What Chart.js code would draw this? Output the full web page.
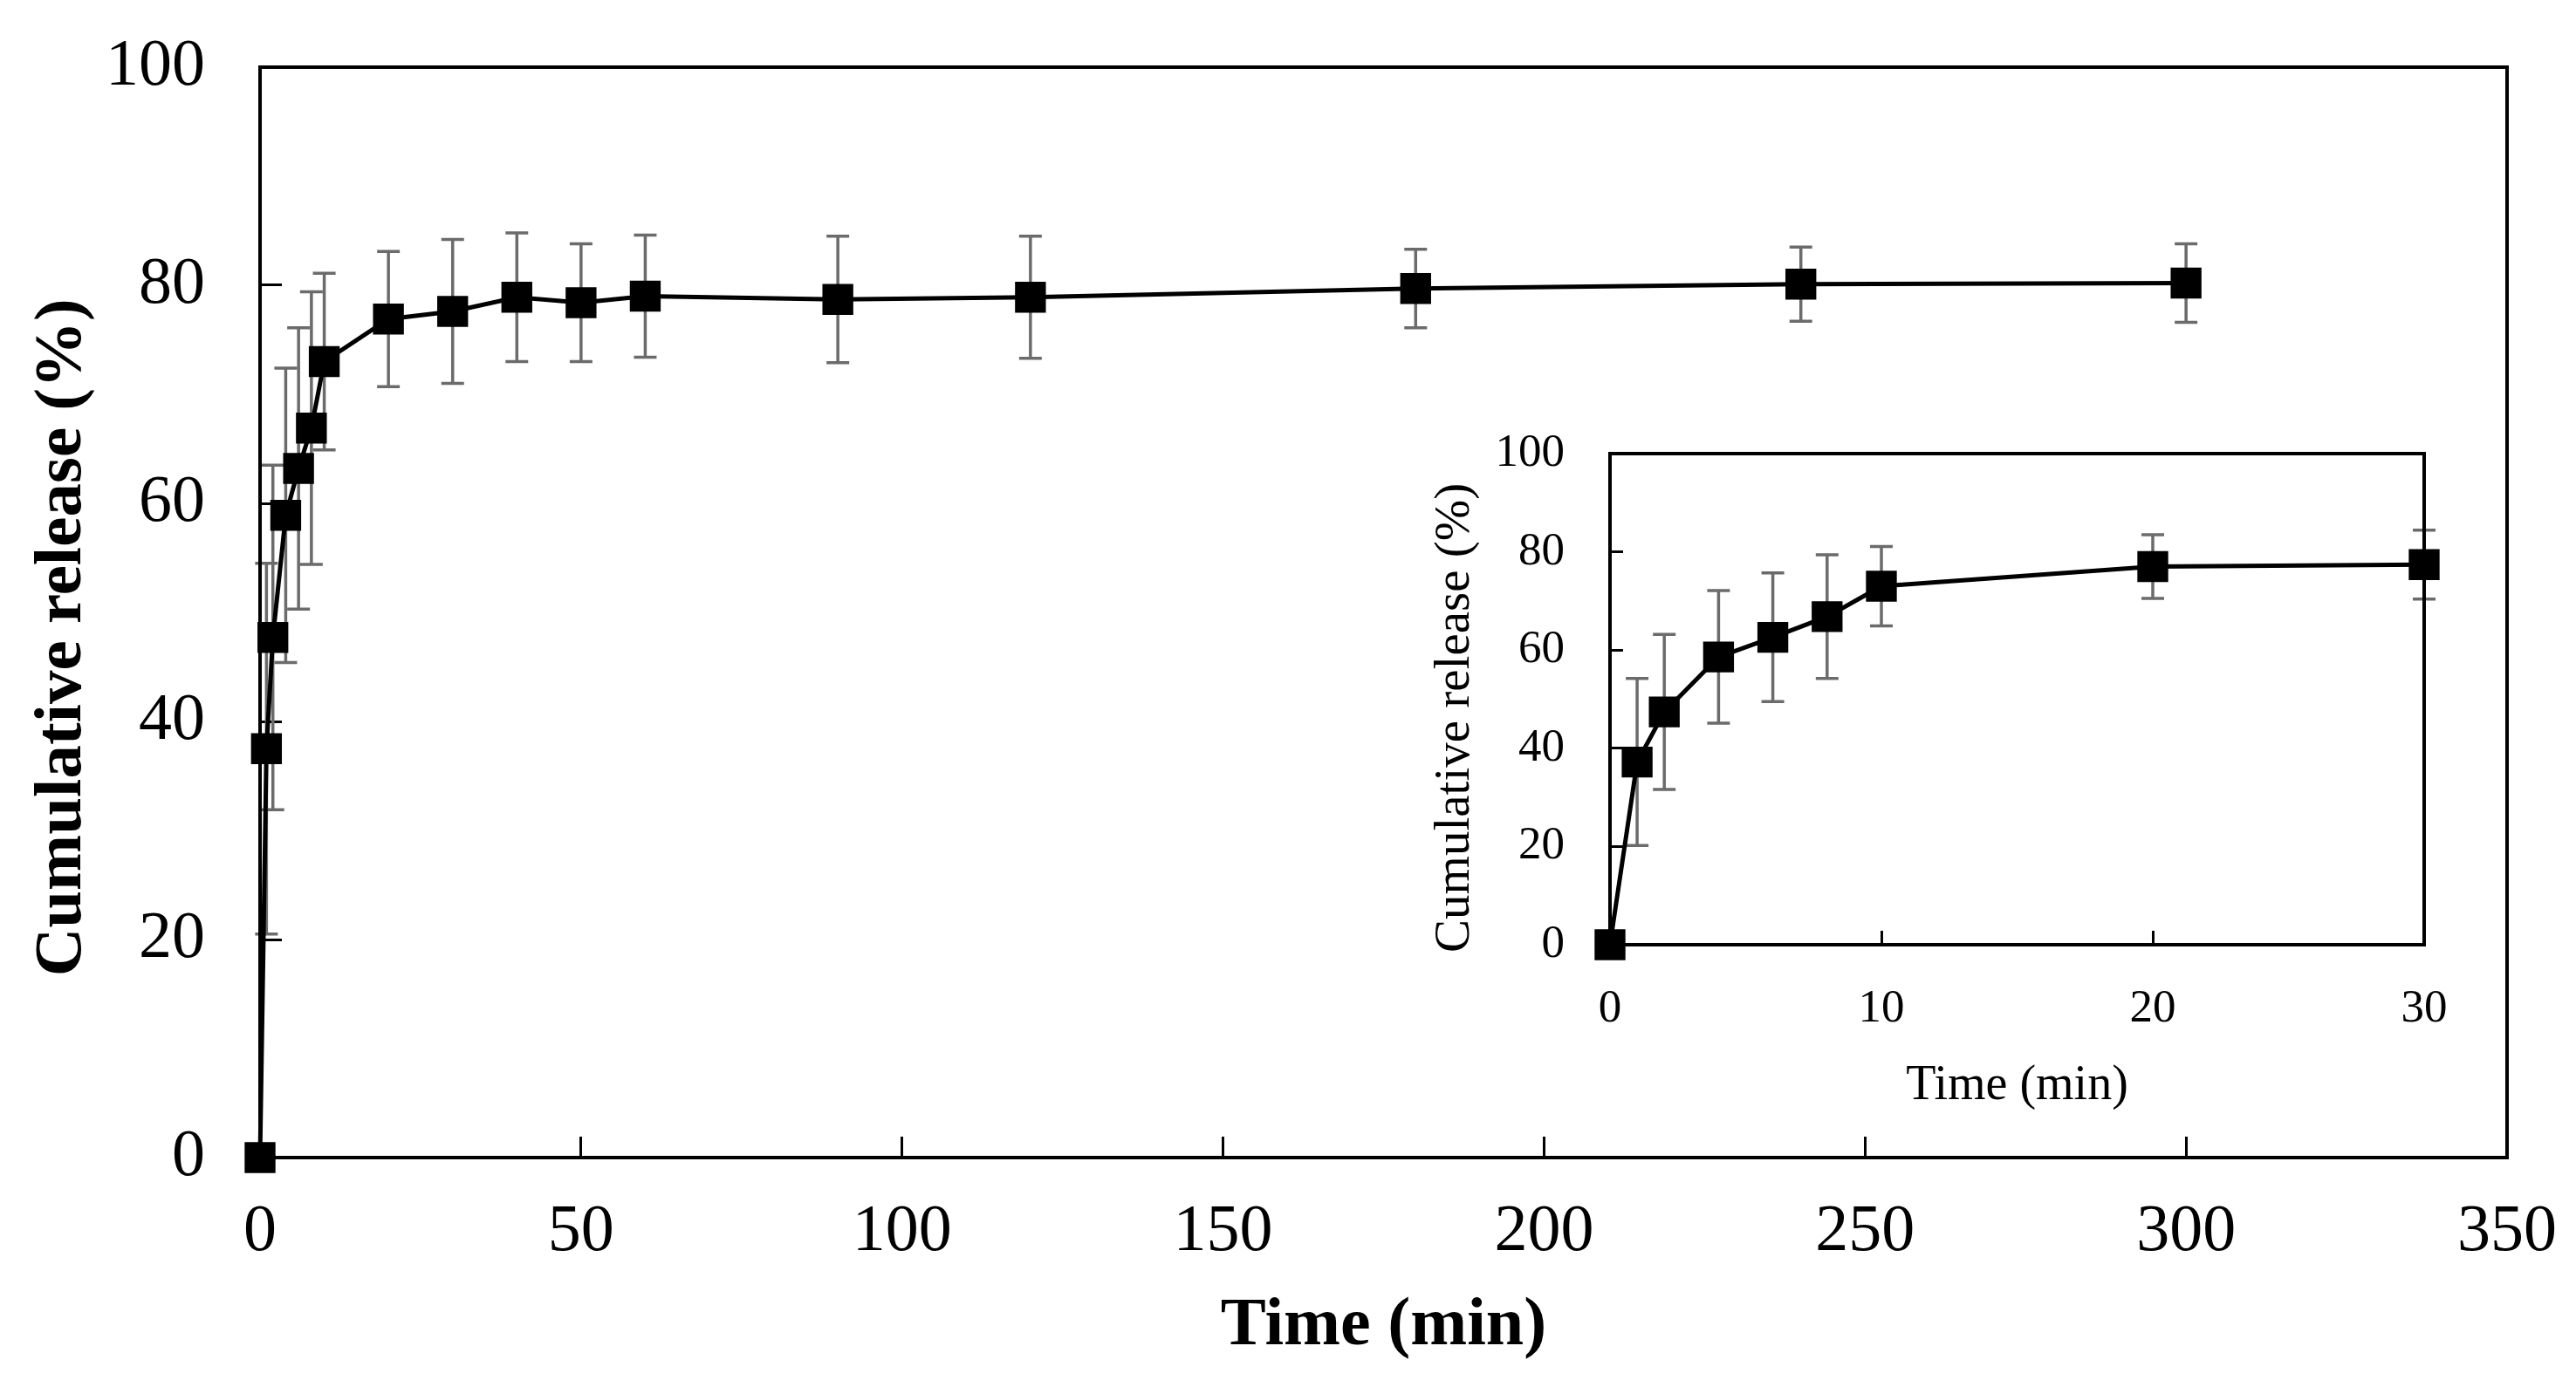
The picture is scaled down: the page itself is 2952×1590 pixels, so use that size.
<!DOCTYPE html>
<html>
<head>
<meta charset="utf-8">
<script src="https://cdn.jsdelivr.net/npm/chart.js@4.4.0/dist/chart.umd.min.js"></script>
<style>
html,body{margin:0;padding:0;background:#fff;}
#wrap{position:relative;width:2952px;height:1590px;background:#fff;}
#main{position:absolute;left:0;top:0;}
#inset{position:absolute;left:1600px;top:480px;}
</style>
</head>
<body>
<div id="wrap">
<canvas id="main" width="2952" height="1590"></canvas>
<canvas id="inset" width="1230" height="830"></canvas>
</div>
<script>
// ---- Main chart data ----
const times      = [0, 1, 2, 4, 6, 8, 10, 20, 30, 40, 50, 60, 90, 120, 180, 240, 300];
const release    = [0, 37.5, 47.7, 58.9, 63.2, 66.9, 73.0, 76.9, 77.6, 78.9, 78.4, 79.0, 78.7, 78.9, 79.7, 80.1, 80.2];
const releaseSD  = [0, 17.0, 15.8, 13.5, 12.9, 12.5, 8.1, 6.2, 6.6, 5.9, 5.4, 5.6, 5.8, 5.6, 3.6, 3.4, 3.6];
const mainXTicks = [0, 50, 100, 150, 200, 250, 300, 350];
const mainYTicks = [0, 20, 40, 60, 80, 100];

// ---- Inset data ----
const insetTimes   = [0, 1, 2, 4, 6, 8, 10, 20, 30];
const insetRelease = [0, 37.2, 47.4, 58.6, 62.6, 66.8, 73.0, 77.0, 77.4];
const insetSD      = [0, 17.0, 15.8, 13.5, 13.1, 12.6, 8.1, 6.5, 7.0];
const insetXTicks  = [0, 10, 20, 30];
const insetYTicks  = [0, 20, 40, 60, 80, 100];

const SERIF = "'Liberation Serif', 'Times New Roman', Times, serif";
const NBSP3 = '\u00a0\u00a0\u00a0';

const errorBars = {
  id: 'errorBars',
  beforeDatasetsDraw(chart, args, opts) {
    const {ctx, scales: {x, y}} = chart;
    chart.data.datasets.forEach(ds => {
      const sd = ds.errors;
      if (!sd) return;
      ctx.save();
      ctx.strokeStyle = opts.color;
      ctx.lineWidth = opts.width;
      ds.data.forEach((p, i) => {
        const e = sd[i];
        if (!e) return;
        const px = x.getPixelForValue(p.x);
        const top = y.getPixelForValue(p.y + e);
        const bot = y.getPixelForValue(p.y - e);
        ctx.beginPath();
        ctx.moveTo(px, top); ctx.lineTo(px, bot);
        ctx.moveTo(px - opts.cap, top); ctx.lineTo(px + opts.cap, top);
        ctx.moveTo(px - opts.cap, bot); ctx.lineTo(px + opts.cap, bot);
        ctx.stroke();
      });
      ctx.restore();
    });
  }
};

const frame = {
  id: 'frame',
  beforeDatasetsDraw(chart, args, opts) {
    const {ctx, chartArea: a} = chart;
    ctx.save();
    ctx.strokeStyle = '#000';
    ctx.lineWidth = opts.width;
    ctx.strokeRect(a.left, a.top, a.right - a.left, a.bottom - a.top);
    ctx.restore();
  }
};

function noPad(s) {
  s.paddingTop = 0; s.paddingBottom = 0; s.paddingLeft = 0; s.paddingRight = 0;
}

function makeChart(el, cfg) {
  const pts = cfg.xs.map((v, i) => ({x: v, y: cfg.ys[i]}));
  return new Chart(el, {
    type: 'line',
    data: {
      datasets: [{
        data: pts,
        errors: cfg.sd,
        borderColor: '#000',
        borderWidth: 5,
        backgroundColor: '#000',
        pointStyle: 'rect',
        pointRadius: 25,
        pointBorderWidth: 0,
        pointBackgroundColor: '#000',
        tension: 0,
        clip: false
      }]
    },
    options: {
      responsive: false,
      animation: false,
      devicePixelRatio: 1,
      layout: {padding: cfg.padding},
      plugins: {
        legend: {display: false},
        tooltip: {enabled: false},
        errorBars: {color: '#6b6b6b', width: 3.5, cap: cfg.cap},
        frame: {width: cfg.frameW}
      },
      scales: {
        x: {
          type: 'linear',
          min: cfg.xTicks[0], max: cfg.xTicks[cfg.xTicks.length - 1],
          afterBuildTicks: s => { s.ticks = cfg.xTicks.map(v => ({value: v})); },
          afterFit: s => { s.height = cfg.xH; noPad(s); },
          border: {display: false},
          grid: {drawOnChartArea: false, drawTicks: true, tickLength: cfg.xTL, color: '#000', lineWidth: 3},
          ticks: {padding: cfg.xPad, color: '#000', maxRotation: 0, autoSkip: false,
                  font: {family: SERIF, size: cfg.tickSize}},
          title: {display: true, text: 'Time (min)', color: '#000',
                  font: {family: SERIF, size: cfg.xTitleSize, weight: cfg.titleWeight},
                  padding: {top: 0, bottom: cfg.xTitlePad}}
        },
        y: {
          min: cfg.yTicks[0], max: cfg.yTicks[cfg.yTicks.length - 1],
          afterBuildTicks: s => { s.ticks = cfg.yTicks.map(v => ({value: v})); },
          afterFit: s => { s.width = cfg.yW; noPad(s); },
          border: {display: false},
          grid: {drawOnChartArea: false, drawTicks: true, tickLength: cfg.yTL, color: '#000', lineWidth: 3},
          ticks: {padding: cfg.yPad, color: '#000', autoSkip: false,
                  font: {family: SERIF, size: cfg.tickSize}},
          title: {display: true, text: 'Cumulative release (%)' + NBSP3, color: '#000',
                  font: {family: SERIF, size: cfg.yTitleSize, weight: cfg.titleWeight},
                  padding: {top: cfg.yTitlePad, bottom: 0}}
        }
      }
    },
    plugins: [errorBars, frame]
  });
}

makeChart(document.getElementById('main'), {
  xs: times, ys: release, sd: releaseSD, xTicks: mainXTicks, yTicks: mainYTicks,
  padding: {left: 0, right: 79, top: 77, bottom: 0},
  xH: 263, yW: 298, xTL: -24, yTL: -25, xPad: 64, yPad: 88,
  tickSize: 76, xTitleSize: 78, yTitleSize: 77, titleWeight: 'bold',
  xTitlePad: 22, yTitlePad: 26, cap: 13, frameW: 4
});

makeChart(document.getElementById('inset'), {
  xs: insetTimes, ys: insetRelease, sd: insetSD, xTicks: insetXTicks, yTicks: insetYTicks,
  padding: {left: 0, right: 52, top: 40, bottom: 0},
  xH: 227, yW: 245, xTL: -16, yTL: -15, xPad: 58, yPad: 67,
  tickSize: 53, xTitleSize: 56, yTitleSize: 57, titleWeight: 'normal',
  xTitlePad: 31, yTitlePad: 34, cap: 13, frameW: 4
});
</script>
</body>
</html>
